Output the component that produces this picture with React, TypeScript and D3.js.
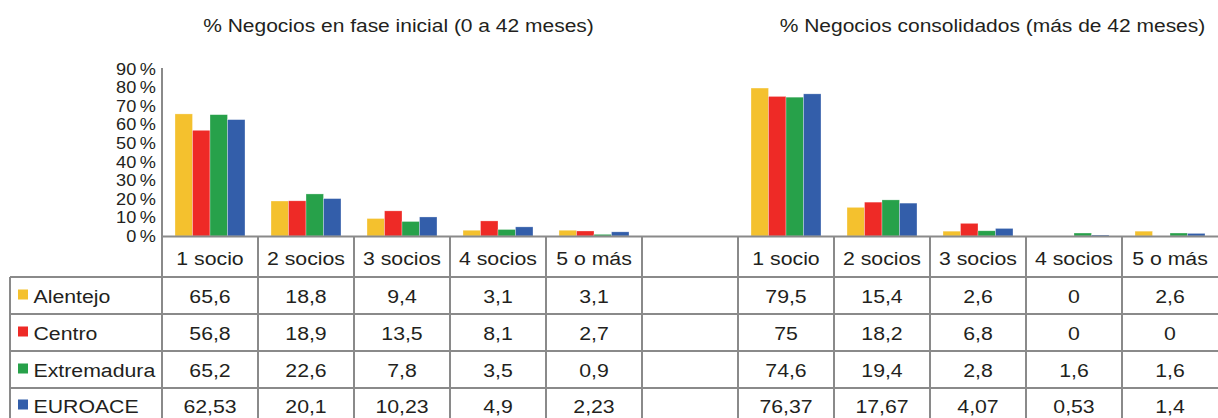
import React from "react";
import * as d3 from "d3";

const groups = ["1 socio", "2 socios", "3 socios", "4 socios", "5 o más"];
const series = ["Alentejo", "Centro", "Extremadura", "EUROACE"];
const colors = ["#F4C12E", "#EE2A26", "#27A14A", "#335EAA"];
const inicial = [
  [65.6, 18.8, 9.4, 3.1, 3.1],
  [56.8, 18.9, 13.5, 8.1, 2.7],
  [65.2, 22.6, 7.8, 3.5, 0.9],
  [62.53, 20.1, 10.23, 4.9, 2.23],
];
const consolidado = [
  [79.5, 15.4, 2.6, 0, 2.6],
  [75, 18.2, 6.8, 0, 0],
  [74.6, 19.4, 2.8, 1.6, 1.6],
  [76.37, 17.67, 4.07, 0.53, 1.4],
];
const yTicks = [0, 10, 20, 30, 40, 50, 60, 70, 80, 90];
const titles = [
  "% Negocios en fase inicial (0 a 42 meses)",
  "% Negocios consolidados (más de 42 meses)",
];

const W = 1218;
const H = 418;
const FONT = "'Liberation Sans', Arial, Helvetica, sans-serif";
const TXT = "#231f20";
const LINE = "#8a8a8a";

// 11 columns: 5 inicial, 1 empty gap, 5 consolidado
const cols = d3.range(11);
const colGroup = (i: number) => (i < 5 ? i : i > 5 ? i - 6 : -1);
const colData = (i: number) => (i < 5 ? inicial : i > 5 ? consolidado : null);

const fmt = (v: number) => String(v).replace(".", ",");

function T(props: {
  x: number;
  y: number;
  size: number;
  sx?: number;
  anchor?: string;
  children: React.ReactNode;
}) {
  const { x, y, size, sx = 1.12, anchor = "start", children } = props;
  return (
    <text
      transform={`translate(${x},${y}) scale(${sx},1)`}
      textAnchor={anchor}
      fontSize={size}
      fill={TXT}
    >
      {children}
    </text>
  );
}

export default function App() {
  const x = d3.scaleBand<number>().domain(cols).range([162, W]).padding(0);
  const bw = x.bandwidth();
  const x1 = d3
    .scaleBand<string>()
    .domain(series)
    .range([0, bw])
    .paddingInner(0)
    .paddingOuter(0.743);
  const y = d3.scaleLinear().domain([0, 90]).range([236, 68.5]);

  const rowY = [237, 277, 314, 351, 388, 423];

  return (
    <svg
      width={W}
      height={H}
      style={{ position: "absolute", left: 0, top: 0, background: "#fff" }}
      fontFamily={FONT}
    >
      {/* titles */}
      <T x={398.5} y={32} size={18.5} sx={1.135} anchor="middle">
        {titles[0]}
      </T>
      <T x={992.5} y={32} size={18.5} sx={1.135} anchor="middle">
        {titles[1]}
      </T>

      {/* y ticks */}
      {yTicks.map((t) => (
        <T key={t} x={156} y={y(t) + 6} size={16.5} sx={1.1} anchor="end">
          {t + "\u2009%"}
        </T>
      ))}

      {/* bars */}
      {cols.map((c) => {
        const data = colData(c);
        if (!data) return null;
        const g = colGroup(c);
        return series.map((s, si) => {
          const v = data[si][g];
          if (v <= 0) return null;
          return (
            <rect
              key={c + "-" + s}
              x={(x(c) as number) + (x1(s) as number)}
              y={y(v)}
              width={x1.bandwidth()}
              height={y(0) - y(v)}
              fill={colors[si]}
              stroke="#ffffff"
              strokeOpacity={0.5}
              strokeWidth={0.6}
            />
          );
        });
      })}

      {/* y axis line */}
      <line x1={162} x2={162} y1={68} y2={237} stroke={LINE} strokeWidth={2} />

      {/* table horizontal lines */}
      <line x1={162} x2={W} y1={236.5} y2={236.5} stroke={LINE} strokeWidth={2} />
      {rowY.slice(1, 5).map((ry) => (
        <line key={ry} x1={10} x2={W} y1={ry} y2={ry} stroke={LINE} strokeWidth={2} />
      ))}
      {/* table vertical lines */}
      <line x1={10} x2={10} y1={277} y2={H} stroke={LINE} strokeWidth={2} />
      {cols.map((c) => (
        <line
          key={"v" + c}
          x1={x(c) as number}
          x2={x(c) as number}
          y1={237}
          y2={H}
          stroke={LINE}
          strokeWidth={2}
        />
      ))}

      {/* header labels */}
      {cols.map((c) => {
        const g = colGroup(c);
        if (g < 0) return null;
        return (
          <T key={"h" + c} x={(x(c) as number) + bw / 2} y={265} size={19} anchor="middle">
            {groups[g]}
          </T>
        );
      })}

      {/* legend + values */}
      {series.map((s, si) => {
        const cy = (rowY[si + 1] + rowY[si + 2]) / 2;
        return (
          <g key={"r" + s}>
            <rect x={18} y={cy - 6} width={10} height={10} fill={colors[si]} />
            <T x={33.5} y={cy + 7} size={19}>
              {s}
            </T>
            {cols.map((c) => {
              const data = colData(c);
              if (!data) return null;
              const g = colGroup(c);
              return (
                <T
                  key={"t" + c}
                  x={(x(c) as number) + bw / 2}
                  y={cy + 7}
                  size={19}
                  anchor="middle"
                >
                  {fmt(data[si][g])}
                </T>
              );
            })}
          </g>
        );
      })}
    </svg>
  );
}
